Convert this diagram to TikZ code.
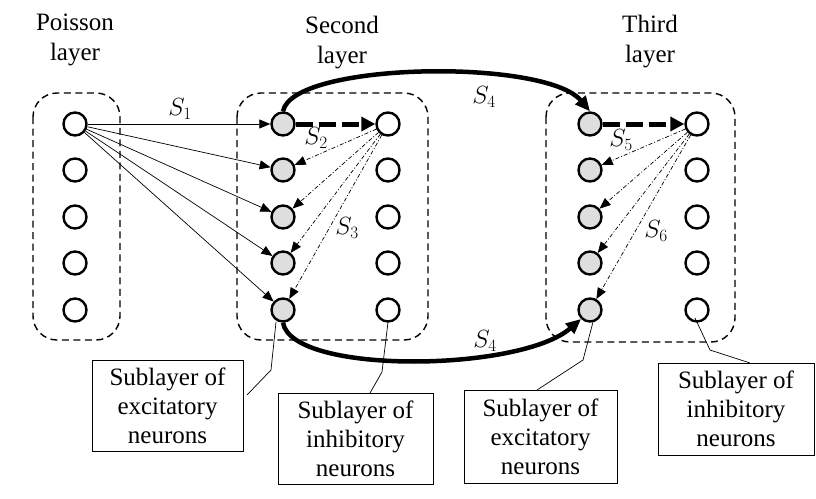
\documentclass[tikz,border=0pt]{standalone}
\usepackage{fontspec}
\setmainfont{Liberation Serif}
\usetikzlibrary{arrows.meta}
\begin{document}
\begin{tikzpicture}[x=1pt,y=-1pt,
  neuron/.style={circle,draw,line width=2.4pt,minimum size=23pt,inner sep=0pt},
  exc/.style={neuron,fill=black!13},
  inh/.style={neuron,fill=white},
  layerbox/.style={draw,line width=1.4pt,rounded corners=24pt,dash pattern=on 7pt off 4.5pt},
  hdr/.style={align=center,font=\fontsize{25}{30}\selectfont},
  lbl/.style={draw,line width=0.8pt,align=center,font=\fontsize{25}{29}\selectfont,inner sep=0pt},
  slab/.style={font=\fontsize{27}{30}\selectfont},
  thinarrow/.style={line width=0.7pt,-{Triangle[length=11pt,width=9pt]}},
  dotarrow/.style={line width=0.7pt,dash pattern=on 4pt off 2pt on 1pt off 2pt,-{Triangle[length=11pt,width=9pt]}},
  thickdash/.style={line width=5pt,dash pattern=on 17pt off 6pt,-{Triangle[length=14pt,width=14pt]}},
  thickarrow/.style={line width=4.5pt,-{Triangle[length=15pt,width=13pt]}},
  pointer/.style={line width=0.7pt}
]
\useasboundingbox (0,0) rectangle (816,498);

% layer boxes
\draw[layerbox] (33,93) rectangle (120,340);
\draw[layerbox] (237,93) rectangle (428,340);
\draw[layerbox] (546,93) rectangle (735,342);

% headers
\node[hdr] (hpois) at (75,40) {Poisson\\layer};
\node[hdr] (hsec) at (342,43) {Second\\layer};
\node[hdr] (hthird) at (650,42) {Third\\layer};

% neurons
\foreach \i/\y in {1/124,2/170,3/217,4/263,5/310} {
  \node[inh] (p\i) at (75,\y) {};
  \node[exc] (e\i) at (283,\y) {};
  \node[inh] (i\i) at (388,\y) {};
  \node[exc] (f\i) at (590,\y) {};
  \node[inh] (j\i) at (697,\y) {};
}

% Poisson -> second layer excitatory
\foreach \i in {1,...,5} \draw[thinarrow] (p1) -- (e\i);
% inhibitory -> excitatory (second layer)
\draw[thickdash] (e1) -- (i1);
\foreach \i in {2,...,5} \draw[dotarrow] (i1) -- (e\i);
% third layer
\draw[thickdash] (f1) -- (j1);
\foreach \i in {2,...,5} \draw[dotarrow] (j1) -- (f\i);

% S4 connections
\draw[thickarrow] (e1.north) .. controls (292,62) and (545,58) .. (f1.north);
\draw[thickarrow] (e5.south) .. controls (292,375) and (520,372) .. (f5.south west);

% synapse labels
\node[slab] (s1) at (180,109) {$S_1$};
\node[slab] (s2) at (316,138) {$S_2$};
\node[slab] (s3) at (347,228) {$S_3$};
\node[slab] (s4a) at (484,97) {$S_4$};
\node[slab] (s5) at (621,140) {$S_5$};
\node[slab] (s6) at (656,231) {$S_6$};
\node[slab] (s4b) at (485,341) {$S_4$};

% description boxes
\node[lbl,minimum width=151pt,minimum height=91pt] (b1) at (167.5,405.5) {Sublayer of\\excitatory\\neurons};
\node[lbl,minimum width=155pt,minimum height=91pt] (b2) at (355.5,438.5) {Sublayer of\\inhibitory\\neurons};
\node[lbl,minimum width=153pt,minimum height=93pt] (b3) at (540.5,436.5) {Sublayer of\\excitatory\\neurons};
\node[lbl,minimum width=156pt,minimum height=92pt] (b4) at (736,409) {Sublayer of\\inhibitory\\neurons};

% pointers
\coordinate (c1a) at (247,395);
\coordinate (c1b) at (271,370);
\coordinate (c1c) at (276,322);
\draw[pointer] (c1a) -- (c1b) -- (c1c);
\coordinate (c2a) at (370,393);
\coordinate (c2b) at (382,372);
\coordinate (c2c) at (388,322);
\draw[pointer] (c2a) -- (c2b) -- (c2c);
\coordinate (c3a) at (537,390);
\coordinate (c3b) at (583,360);
\coordinate (c3c) at (593,322);
\draw[pointer] (c3a) -- (c3b) -- (c3c);
\coordinate (c4a) at (750,363);
\coordinate (c4b) at (710,350);
\coordinate (c4c) at (695,318);
\draw[pointer] (c4a) -- (c4b) -- (c4c);
\end{tikzpicture}
\end{document}
